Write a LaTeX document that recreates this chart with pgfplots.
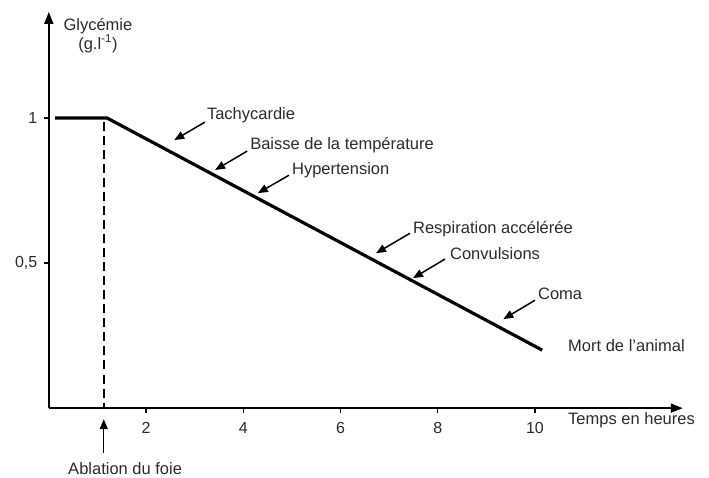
\documentclass[border=0pt]{standalone}
\usepackage{fontspec}
\setmainfont{Liberation Sans}
\usepackage{pgfplots}
\pgfplotsset{compat=1.18}
\usetikzlibrary{arrows.meta}
\definecolor{txt}{HTML}{2B2B2B}
\begin{document}
\begin{tikzpicture}[
  lab/.style={anchor=west, inner sep=0pt, font=\fontsize{16.5}{19}\selectfont, text=txt},
  ann/.style={line width=1.5pt, -{Triangle[length=10pt,width=8pt]}}
]
\begin{axis}[
  x=48.6pt, y=290pt,
  xmin=0, xmax=13.04, ymin=0, ymax=1.366,
  axis lines=left,
  axis line style={line width=1.8pt, -{Triangle[length=12pt,width=9pt]}},
  clip=false,
  xtick={2,4,6,8,10}, ytick={0.5,1},
  yticklabels={{0,5},{1}},
  tick align=outside, major tick length=5pt,
  tick style={line width=1.5pt, black},
  ticklabel style={font=\fontsize{16}{19}\selectfont, text=txt},
  xticklabel style={yshift=-6pt},
  yticklabel style={xshift=-3pt},
  /pgf/number format/assume math mode=true,
]
\addplot[black, line width=3.2pt, line join=round] coordinates {(0.13,1) (1.2,1) (10.15,0.2)};
\addplot[black, line width=2pt, dash pattern=on 9pt off 5pt] coordinates {(1.13,0.985) (1.13,0)};

\node[lab, anchor=center, align=center] at (axis cs:1.01,1.285) {Glycémie\\(g.l\textsuperscript{-1})};

\node[lab] at (axis cs:3.25,1.01) {Tachycardie};
\draw[ann] (axis cs:3.21,0.986) -- (axis cs:2.58,0.924);
\node[lab] at (axis cs:4.14,0.907) {Baisse de la température};
\draw[ann] (axis cs:4.08,0.886) -- (axis cs:3.42,0.821);
\node[lab] at (axis cs:5.00,0.821) {Hypertension};
\draw[ann] (axis cs:4.94,0.803) -- (axis cs:4.30,0.741);
\node[lab] at (axis cs:7.49,0.617) {Respiration accélérée};
\draw[ann] (axis cs:7.43,0.603) -- (axis cs:6.73,0.534);
\node[lab] at (axis cs:8.25,0.534) {Convulsions};
\draw[ann] (axis cs:8.15,0.514) -- (axis cs:7.49,0.448);
\node[lab] at (axis cs:10.06,0.393) {Coma};
\draw[ann] (axis cs:10.0,0.372) -- (axis cs:9.35,0.307);
\node[lab] at (axis cs:10.68,0.214) {Mort de l{\char39}animal};
\node[lab] at (axis cs:10.68,-0.041) {Temps en heures};
\draw[ann] (axis cs:1.13,-0.155) -- (axis cs:1.13,-0.038);
\node[lab, anchor=center] at (axis cs:1.57,-0.207) {Ablation du foie};

\path (axis cs:-1.004,1.407) rectangle (axis cs:13.58,-0.238);
\end{axis}
\end{tikzpicture}
\end{document}
